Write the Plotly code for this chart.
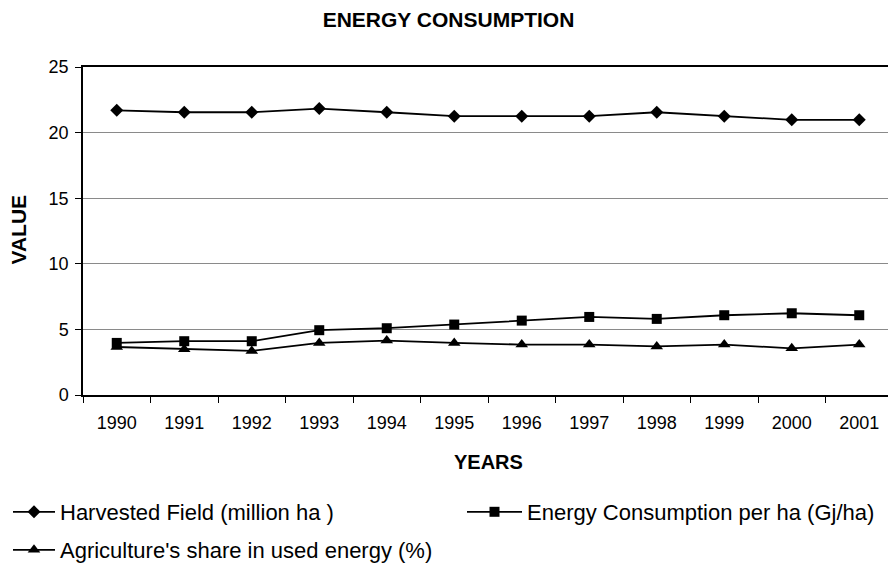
import plotly.graph_objects as go

years = ["1990", "1991", "1992", "1993", "1994", "1995", "1996", "1997", "1998", "1999", "2000", "2001"]
harvested = [21.7, 21.55, 21.55, 21.83, 21.55, 21.25, 21.25, 21.25, 21.55, 21.25, 20.97, 20.97]
energy = [3.97, 4.1, 4.1, 4.94, 5.09, 5.37, 5.67, 5.95, 5.8, 6.08, 6.23, 6.08]
agri = [3.66, 3.49, 3.36, 3.97, 4.15, 3.97, 3.84, 3.84, 3.7, 3.84, 3.56, 3.84]
y_ticks = [0, 5, 10, 15, 20, 25]

FONT = "Liberation Sans, Arial, sans-serif"
W, H = 888, 556  # page body adds an 8px margin

fig = go.Figure()
fig.add_trace(go.Scatter(x=years, y=harvested, name="Harvested Field (million ha )",
                         mode="lines+markers", line=dict(color="black", width=1.8),
                         marker=dict(symbol="diamond", size=10, color="black"), legend="legend"))
fig.add_trace(go.Scatter(x=years, y=energy, name="Energy Consumption per ha (Gj/ha)",
                         mode="lines+markers", line=dict(color="black", width=1.8),
                         marker=dict(symbol="square", size=10, color="black"), legend="legend2"))
fig.add_trace(go.Scatter(x=years, y=agri, name="Agriculture's share in used energy (%)",
                         mode="lines+markers", line=dict(color="black", width=1.8),
                         marker=dict(symbol="triangle-up", size=11, color="black"), legend="legend3"))

leg_common = dict(xref="container", yref="container", xanchor="left", yanchor="middle",
                  font=dict(family=FONT, size=22, color="black"), bgcolor="rgba(0,0,0,0)",
                  borderwidth=0, visible=True)

fig.update_layout(
    width=W, height=H,
    showlegend=True,
    margin=dict(l=75, r=3, t=59, b=169, autoexpand=False),
    paper_bgcolor="white", plot_bgcolor="white",
    font=dict(family=FONT, color="black"),
    title=dict(text="<b>ENERGY CONSUMPTION</b>", x=440.5 / W, xref="container", xanchor="center",
               y=1 - 11.5 / H, yref="container", yanchor="middle",
               font=dict(family=FONT, size=21, color="black")),
    xaxis=dict(type="category", range=[-0.5, len(years) - 0.5], tickson="boundaries",
               ticks="outside", ticklen=6,
               tickcolor="black", tickwidth=1, showline=True, linecolor="black",
               linewidth=1.5, mirror=True, showgrid=False, tickangle=0, automargin=False,
               ticklabelstandoff=11,
               tickfont=dict(family=FONT, size=18, color="black")),
    yaxis=dict(range=[0, 25], tickvals=y_ticks, ticks="outside", ticklen=6,
               tickcolor="black", tickwidth=1, showline=True, linecolor="black",
               linewidth=1.5, mirror=True, showgrid=True, gridcolor="#8a8a8a",
               gridwidth=1.2, zeroline=False, automargin=False, ticklabelstandoff=3,
               tickfont=dict(family=FONT, size=18, color="black")),
    legend=dict(x=0, y=(H - 504) / H, itemwidth=42, **leg_common),
    legend2=dict(x=454 / W, y=(H - 504) / H, itemwidth=55, **leg_common),
    legend3=dict(x=0, y=(H - 542) / H, itemwidth=42, **leg_common),
    annotations=[
        dict(text="<b>YEARS</b>", xref="paper", yref="paper", x=0.5, y=(387 - 454) / 328,
             xanchor="center", yanchor="middle", showarrow=False,
             font=dict(family=FONT, size=20, color="black")),
        dict(text="<b>VALUE</b>", xref="paper", yref="paper", x=(10 - 75) / 810,
             y=(387 - 221.5) / 328, xanchor="center", yanchor="middle", showarrow=False,
             textangle=-90, font=dict(family=FONT, size=21, color="black")),
    ],
)

fig.write_html("out.html")
